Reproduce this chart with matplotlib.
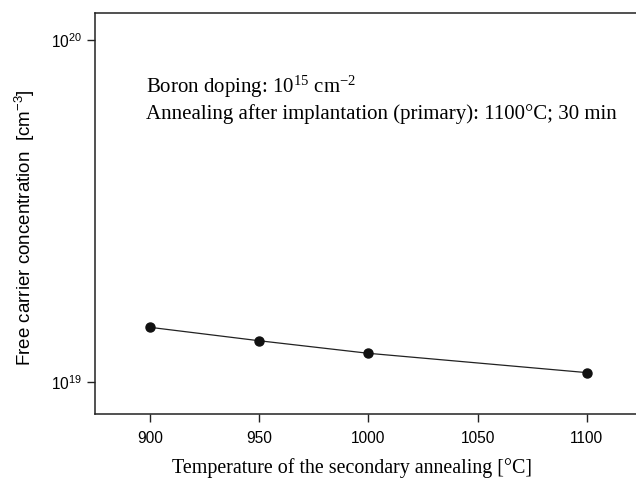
import matplotlib
matplotlib.use("Agg")
import matplotlib.pyplot as plt
from matplotlib.ticker import FixedLocator, FixedFormatter, NullLocator

plt.rcParams['font.family'] = ['Liberation Sans', 'DejaVu Sans']
plt.rcParams['mathtext.fontset'] = 'custom'
plt.rcParams['mathtext.rm'] = 'Liberation Serif'
plt.rcParams['mathtext.it'] = 'Liberation Serif:italic'
plt.rcParams['mathtext.sf'] = 'Liberation Sans'

temperature = [900, 950, 1000, 1100]
concentration = [1.445e19, 1.32e19, 1.213e19, 1.065e19]
x_ticks = [900, 950, 1000, 1050, 1100]
y_ticks = [1e19, 1e20]
y_tick_labels = [r'$\mathsf{10^{19}}$', r'$\mathsf{10^{20}}$']

fig = plt.figure(figsize=(6.36, 4.79), dpi=100)
ax = fig.add_axes([94.7/636, 65/479, 1 - 94.7/636, (414-13)/479])

ax.plot(temperature, concentration, '-', color='#222222', lw=0.9,
        marker='o', ms=6.5, mfc='#111111', mec='#111111')

ax.set_yscale('log')
ax.set_xlim(874.7, 1122.5)
ax.set_ylim(8.06e18, 1.2e20)
ax.xaxis.set_major_locator(FixedLocator(x_ticks))
ax.yaxis.set_major_locator(FixedLocator(y_ticks))
ax.yaxis.set_major_formatter(FixedFormatter(y_tick_labels))
ax.yaxis.set_minor_locator(NullLocator())
ax.xaxis.set_minor_locator(NullLocator())
ax.tick_params(axis='both', direction='out', length=6, width=1, labelsize=11.2, color='#222222')
ax.tick_params(axis='x', pad=6)
ax.tick_params(axis='y', pad=3)
ax.spines['right'].set_visible(False)
for s in ['left', 'top', 'bottom']:
    ax.spines[s].set_linewidth(1.1)
    ax.spines[s].set_color('#222222')

ax.set_xlabel('Temperature of the secondary annealing [°C]', family='Liberation Serif',
              fontsize=14.4, labelpad=9)
ax.xaxis.label.set_x(0.476)
ax.set_ylabel(r'Free carrier concentration  [$\mathsf{cm^{-3}}$]', fontsize=13.5, labelpad=10)
ax.yaxis.label.set_y(0.464)

ax.text(0.0948, 0.815, r'Boron doping: 10$^{15}$ cm$^{-2}$', transform=ax.transAxes,
        family='Liberation Serif', fontsize=15, va='center', ha='left')
ax.text(0.0948, 0.748, 'Annealing after implantation (primary): 1100°C; 30 min',
        transform=ax.transAxes, family='Liberation Serif', fontsize=15, va='center', ha='left')

fig.savefig('out.png', dpi=100)
